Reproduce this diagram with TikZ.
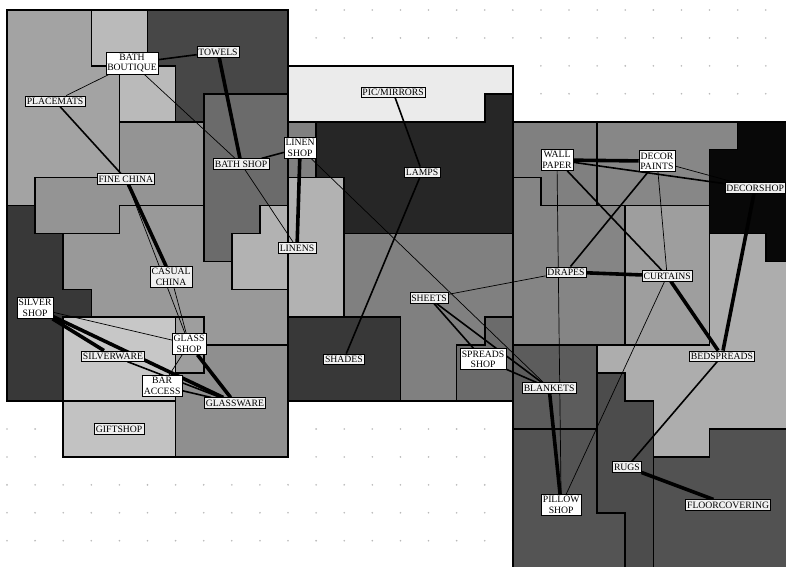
\documentclass[tikz,border=0pt]{standalone}
\usepackage{fontspec}
\setmainfont{Liberation Serif}
\usepackage{tikz}

\definecolor{cPlacemats}{gray}{0.64}
\definecolor{cBoutique}{gray}{0.73}
\definecolor{cTowels}{gray}{0.28}
\definecolor{cBathShop}{gray}{0.42}
\definecolor{cFineChina}{gray}{0.58}
\definecolor{cCasual}{gray}{0.60}
\definecolor{cSilverShop}{gray}{0.22}
\definecolor{cLinens}{gray}{0.70}
\definecolor{cSilverware}{gray}{0.78}
\definecolor{cGlassShop}{gray}{0.62}
\definecolor{cGlassware}{gray}{0.56}
\definecolor{cGift}{gray}{0.76}
\definecolor{cPic}{gray}{0.92}
\definecolor{cLamps}{gray}{0.15}
\definecolor{cLinenShop}{gray}{0.50}
\definecolor{cSheets}{gray}{0.50}
\definecolor{cShades}{gray}{0.22}
\definecolor{cSpreads}{gray}{0.42}
\definecolor{cWallPaper}{gray}{0.50}
\definecolor{cDecorPaints}{gray}{0.53}
\definecolor{cDecorShop}{gray}{0.03}
\definecolor{cDrapes}{gray}{0.52}
\definecolor{cCurtains}{gray}{0.62}
\definecolor{cBedspreads}{gray}{0.68}
\definecolor{cBlankets}{gray}{0.36}
\definecolor{cPillow}{gray}{0.33}
\definecolor{cRugs}{gray}{0.30}
\definecolor{cFloor}{gray}{0.32}

\pgfdeclarelayer{plan}
\pgfdeclarelayer{links}
\pgfsetlayers{plan,links,main}

\begin{document}
\begin{tikzpicture}[x=28.1pt, y=-27.93pt, font=\fontsize{9.7}{10.5}\selectfont,
    wall/.style={draw=black, line width=1.6pt},
    dept/.style={draw, line width=0.5pt, fill=gray!12, inner xsep=1.5pt, inner ysep=2pt},
    shop/.style={dept, fill=white, align=center},
    weak/.style={line width=0.7pt},
    mid/.style={line width=1.6pt},
    strong/.style={line width=3.6pt}]
    \useasboundingbox (-0.249,-0.358) rectangle (27.72,19.94);

    \begin{pgfonlayer}{plan}
    \fill[white] (-0.249,-0.358) rectangle (27.72,19.94);
    \foreach \i in {0,...,28}
      \foreach \j in {0,...,20}
        \fill[gray!55] (\i,\j) circle (0.9pt);
    % linens, china, glass and bath
    \filldraw[wall, fill=cPlacemats]  (0,0) -- (3,0) -- (3,2) -- (4,2) -- (4,6) -- (1,6) -- (1,7) -- (0,7) -- cycle;
    \filldraw[wall, fill=cBoutique]   (3,0) -- (5,0) -- (5,2) -- (6,2) -- (6,4) -- (4,4) -- (4,2) -- (3,2) -- cycle;
    \filldraw[wall, fill=cTowels]     (5,0) -- (10,0) -- (10,3) -- (7,3) -- (7,4) -- (6,4) -- (6,2) -- (5,2) -- cycle;
    \filldraw[wall, fill=cBathShop]   (7,3) -- (10,3) -- (10,7) -- (9,7) -- (9,8) -- (8,8) -- (8,9) -- (7,9) -- cycle;
    \filldraw[wall, fill=cFineChina]  (4,4) -- (7,4) -- (7,7) -- (4,7) -- (4,8) -- (1,8) -- (1,6) -- (4,6) -- cycle;
    \filldraw[wall, fill=cSilverShop] (0,7) -- (1,7) -- (1,8) -- (2,8) -- (2,10) -- (3,10) -- (3,11) -- (2,11) -- (2,14) -- (0,14) -- cycle;
    \filldraw[wall, fill=cCasual]     (2,8) -- (4,8) -- (4,7) -- (7,7) -- (7,9) -- (8,9) -- (8,10) -- (10,10) -- (10,12) -- (7,12) -- (7,11) -- (3,11) -- (3,10) -- (2,10) -- cycle;
    \filldraw[wall, fill=cLinens]     (9,7) -- (10,7) -- (10,6) -- (12,6) -- (12,11) -- (10,11) -- (10,10) -- (8,10) -- (8,8) -- (9,8) -- cycle;
    \filldraw[wall, fill=cSilverware] (2,11) -- (6,11) -- (6,14) -- (2,14) -- cycle;
    \filldraw[wall, fill=cGlassShop]  (6,11) -- (7,11) -- (7,13) -- (6,13) -- cycle;
    \filldraw[wall, fill=cGlassware]  (7,12) -- (10,12) -- (10,16) -- (6,16) -- (6,13) -- (7,13) -- cycle;
    \filldraw[wall, fill=cGift]       (2,14) -- (6,14) -- (6,16) -- (2,16) -- cycle;
    % lamps and sheets
    \filldraw[wall, fill=cPic]        (10,2) -- (18,2) -- (18,3) -- (17,3) -- (17,4) -- (10,4) -- cycle;
    \filldraw[wall, fill=cLinenShop]  (10,4) -- (11,4) -- (11,6) -- (10,6) -- cycle;
    \filldraw[wall, fill=cLamps]      (11,4) -- (17,4) -- (17,3) -- (18,3) -- (18,8) -- (12,8) -- (12,6) -- (11,6) -- cycle;
    \filldraw[wall, fill=cSheets]     (12,8) -- (18,8) -- (18,11) -- (17,11) -- (17,12) -- (16,12) -- (16,14) -- (14,14) -- (14,11) -- (12,11) -- cycle;
    \filldraw[wall, fill=cShades]     (10,11) -- (14,11) -- (14,14) -- (10,14) -- cycle;
    \filldraw[wall, fill=cSpreads]    (16,12) -- (17,12) -- (17,11) -- (18,11) -- (18,14) -- (16,14) -- cycle;
    % decor, bedding and floors
    \filldraw[wall, fill=cWallPaper]  (18,4) -- (21,4) -- (21,7) -- (19,7) -- (19,6) -- (18,6) -- cycle;
    \filldraw[wall, fill=cDecorPaints] (21,4) -- (26,4) -- (26,5) -- (25,5) -- (25,7) -- (21,7) -- cycle;
    \filldraw[wall, fill=cDecorShop]  (26,4) -- (28,4) -- (28,9) -- (27,9) -- (27,8) -- (25,8) -- (25,5) -- (26,5) -- cycle;
    \filldraw[wall, fill=cDrapes]     (18,6) -- (19,6) -- (19,7) -- (22,7) -- (22,12) -- (18,12) -- cycle;
    \filldraw[wall, fill=cCurtains]   (22,7) -- (25,7) -- (25,12) -- (22,12) -- cycle;
    \filldraw[wall, fill=cBedspreads] (25,8) -- (27,8) -- (27,9) -- (28,9) -- (28,15) -- (25,15) -- (25,16) -- (23,16) -- (23,14) -- (22,14) -- (22,13) -- (21,13) -- (21,12) -- (25,12) -- cycle;
    \filldraw[wall, fill=cBlankets]   (18,12) -- (21,12) -- (21,15) -- (18,15) -- cycle;
    \filldraw[wall, fill=cPillow]     (18,15) -- (21,15) -- (21,18) -- (22,18) -- (22,20) -- (18,20) -- cycle;
    \filldraw[wall, fill=cRugs]       (21,13) -- (22,13) -- (22,14) -- (23,14) -- (23,20) -- (22,20) -- (22,18) -- (21,18) -- cycle;
    \filldraw[wall, fill=cFloor]      (23,16) -- (25,16) -- (25,15) -- (28,15) -- (28,20) -- (23,20) -- cycle;
    \draw[line width=2.4pt] (0,0) -- (10,0) -- (10,16) -- (2,16) -- (2,14) -- (0,14) -- cycle;
    \draw[line width=2.4pt] (10,2) -- (18,2) -- (18,14) -- (10,14) -- cycle;
    \draw[line width=2.4pt] (18,4) -- (28,4) -- (28,20) -- (18,20) -- cycle;
    \end{pgfonlayer}

    \node[shop] (boutique)    at (4.45,1.90)  {BATH\\BOUTIQUE};
    \node[dept] (towels)      at (7.51,1.50)  {TOWELS};
    \node[dept] (placemats)   at (1.71,3.26)  {PLACEMATS};
    \node[dept] (finechina)   at (4.23,6.05)  {FINE CHINA};
    \node[dept] (bathshop)    at (8.33,5.51)  {BATH SHOP};
    \node[shop] (linenshop)   at (10.43,4.94) {LINEN\\SHOP};
    \node[dept] (linens)      at (10.32,8.52) {LINENS};
    \node[dept, align=center] (casualchina) at (5.84,9.56) {CASUAL\\CHINA};
    \node[shop] (silvershop)  at (1.00,10.67) {SILVER\\SHOP};
    \node[shop] (glassshop)   at (6.48,11.96) {GLASS\\SHOP};
    \node[dept] (silverware)  at (3.77,12.39) {SILVERWARE};
    \node[shop] (baraccess)   at (5.52,13.46) {BAR\\ACCESS};
    \node[dept] (glassware)   at (8.11,14.07) {GLASSWARE};
    \node[dept] (giftshop)    at (3.99,15.00) {GIFTSHOP};
    \node[dept] (picmirrors)  at (13.74,2.94) {PIC/MIRRORS};
    \node[dept] (lamps)       at (14.77,5.80) {LAMPS};
    \node[dept] (sheets)      at (15.02,10.31) {SHEETS};
    \node[dept] (shades)      at (11.99,12.50) {SHADES};
    \node[shop] (spreadsshop) at (16.94,12.50) {SPREADS\\SHOP};
    \node[dept] (blankets)    at (19.29,13.53) {BLANKETS};
    \node[shop] (wallpaper)   at (19.57,5.37) {WALL\\PAPER};
    \node[shop] (decorpaints) at (23.13,5.41) {DECOR\\PAINTS};
    \node[dept] (decorshop)   at (26.62,6.37) {DECORSHOP};
    \node[dept] (drapes)      at (19.89,9.38) {DRAPES};
    \node[dept] (curtains)    at (23.49,9.52) {CURTAINS};
    \node[dept] (bedspreads)  at (25.44,12.39) {BEDSPREADS};
    \node[shop] (pillowshop)  at (19.72,17.72) {PILLOW\\SHOP};
    \node[dept] (rugs)        at (22.06,16.36) {RUGS};
    \node[dept] (floorcovering) at (25.66,17.72) {FLOORCOVERING};

    \begin{pgfonlayer}{links}
    \draw[mid]    (boutique) -- (towels);
    \draw[weak]   (boutique) -- (placemats);
    \draw[weak]   (boutique) -- (bathshop);
    \draw[strong] (towels) -- (bathshop);
    \draw[mid]    (bathshop) -- (linenshop);
    \draw[weak]   (bathshop) -- (linens);
    \draw[strong] (linenshop) -- (linens);
    \draw[mid]    (placemats) -- (finechina);
    \draw[strong] (finechina) -- (casualchina);
    \draw[weak]   (finechina) -- (glassshop);
    \draw[weak]   (casualchina) -- (glassshop);
    \draw[strong] (glassshop) -- (glassware);
    \draw[weak]   (glassshop) -- (baraccess);
    \draw[weak]   (silvershop) -- (glassshop);
    \draw[strong] (silvershop) -- (silverware);
    \draw[strong] (silvershop) -- (glassware);
    \draw[mid]    (silverware) -- (glassware);
    \draw[mid]    (baraccess) -- (glassware);
    \draw[mid]    (picmirrors) -- (lamps);
    \draw[mid]    (lamps) -- (shades);
    \draw[weak]   (linenshop) -- (blankets);
    \draw[weak]   (sheets) -- (drapes);
    \draw[mid]    (sheets) -- (spreadsshop);
    \draw[mid]    (sheets) -- (blankets);
    \draw[mid]    (spreadsshop) -- (blankets);
    \draw[strong] (blankets) -- (pillowshop);
    \draw[strong] (wallpaper) -- (decorpaints);
    \draw[mid]    (wallpaper) -- (decorshop);
    \draw[weak]   (decorpaints) -- (decorshop);
    \draw[mid]    (wallpaper) -- (curtains);
    \draw[weak]   (wallpaper) -- (pillowshop);
    \draw[mid]    (decorpaints) -- (drapes);
    \draw[weak]   (decorpaints) -- (curtains);
    \draw[strong] (drapes) -- (curtains);
    \draw[strong] (curtains) -- (bedspreads);
    \draw[weak]   (curtains) -- (pillowshop);
    \draw[strong] (decorshop) -- (bedspreads);
    \draw[mid]    (bedspreads) -- (rugs);
    \draw[strong] (rugs) -- (floorcovering);
    \end{pgfonlayer}
\end{tikzpicture}
\end{document}
